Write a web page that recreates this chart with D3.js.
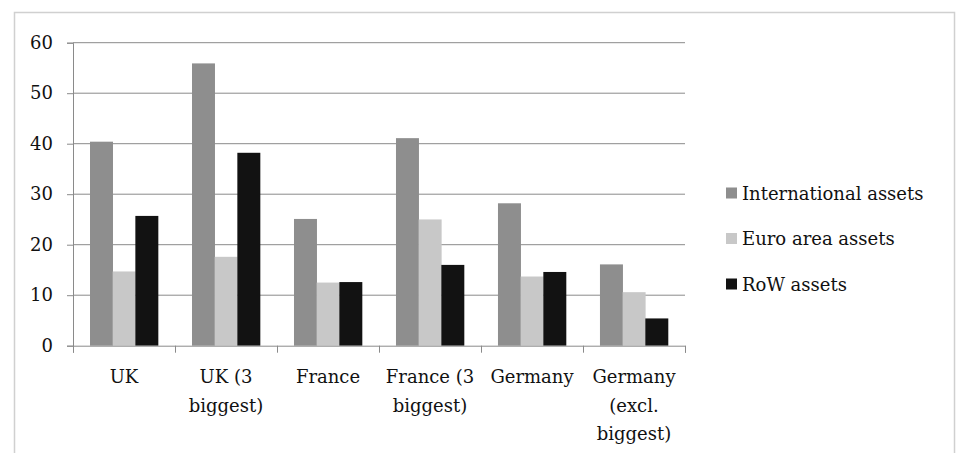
<!DOCTYPE html>
<html><head><meta charset="utf-8">
<script src="https://cdn.jsdelivr.net/npm/d3@7"></script>
<style>body{margin:0;background:#fff}svg{display:block}</style>
</head><body>
<svg id="c" width="956" height="453"></svg>
<script>
const categories = [["UK"],["UK (3","biggest)"],["France"],["France (3","biggest)"],["Germany"],["Germany","(excl.","biggest)"]];
const seriesNames = ["International assets","Euro area assets","RoW assets"];
const international = [40.4, 55.9, 25.1, 41.1, 28.2, 16.1];
const euroArea = [14.7, 17.6, 12.5, 25.0, 13.7, 10.6];
const row = [25.7, 38.2, 12.6, 16.0, 14.6, 5.4];
const yTicks = [0,10,20,30,40,50,60];
const colors = ["#8e8e8e","#c8c8c8","#121212"];

const svg = d3.select("#c");
const font = "'DejaVu Serif', serif";
const fs = 18;
svg.append("rect").attr("x",14.5).attr("y",12.5).attr("width",940).attr("height",460)
  .attr("fill","none").attr("stroke","#d0d0d0").attr("stroke-width",1.5);

const L=73, R=685, T=42.7, B=345.7;
const x = d3.scaleBand().domain(d3.range(categories.length)).range([L,R]).paddingInner(0.333).paddingOuter(0.1667);
const xs = d3.scaleBand().domain(d3.range(3)).range([0,x.bandwidth()]);
const y = d3.scaleLinear().domain([0,60]).range([B,T]);

svg.append("g").selectAll("line").data(yTicks.filter(d=>d>0)).join("line")
  .attr("x1",L).attr("x2",R).attr("y1",d=>y(d)).attr("y2",d=>y(d))
  .attr("stroke","#8a8a8a").attr("stroke-width",1);

const data = [international, euroArea, row];
const g = svg.append("g");
categories.forEach((c,i)=>{
  data.forEach((s,j)=>{
    g.append("rect").attr("x",x(i)+xs(j)).attr("width",xs.bandwidth()+0.3)
      .attr("y",y(s[i])).attr("height",B-y(s[i])).attr("fill",colors[j]);
  });
});

const ya = svg.append("g").attr("transform",`translate(${L},0)`)
  .call(d3.axisLeft(y).tickValues(yTicks).tickSize(6).tickPadding(14));
ya.select(".domain").attr("stroke","#8a8a8a");
ya.selectAll(".tick line").attr("stroke","#8a8a8a");
ya.selectAll("text").attr("font-family",font).attr("font-size",fs).attr("fill","#111");

const xb = d3.scaleLinear().domain([0,categories.length]).range([L,R]);
const xa = svg.append("g").attr("transform",`translate(0,${B})`)
  .call(d3.axisBottom(xb).tickValues(d3.range(categories.length+1)).tickSize(7).tickFormat(""));
xa.select(".domain").attr("stroke","#8a8a8a");
xa.selectAll(".tick line").attr("stroke","#8a8a8a");

const lab = svg.append("g");
categories.forEach((c,i)=>{
  const t = lab.append("text").attr("text-anchor","middle").attr("font-family",font).attr("font-size",fs).attr("fill","#111");
  c.forEach((ln,k)=>t.append("tspan").attr("x",x(i)+x.bandwidth()/2).attr("y",383+k*28.5).text(ln));
});

const lg = svg.append("g");
seriesNames.forEach((n,j)=>{
  const cy = 193 + j*45.5;
  lg.append("rect").attr("x",726).attr("y",cy-5.5).attr("width",11).attr("height",11).attr("fill",colors[j]);
  lg.append("text").attr("x",742).attr("y",cy+6.5).attr("font-family",font).attr("font-size",fs).attr("fill","#111").text(n);
});
</script>
</body></html>
